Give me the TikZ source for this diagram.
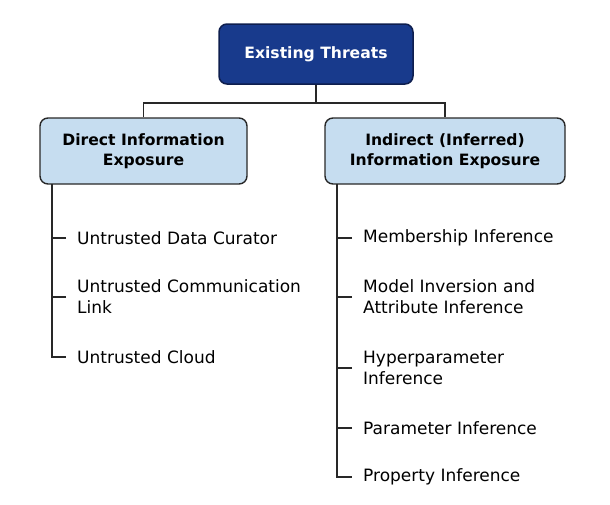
\documentclass[tikz,border=0pt]{standalone}
\usepackage{fontspec}
\setmainfont{DejaVu Sans}
\usetikzlibrary{positioning}
\definecolor{navy}{RGB}{24,58,140}
\definecolor{navyline}{RGB}{14,30,78}
\definecolor{paleblue}{RGB}{198,221,240}
\definecolor{darkline}{RGB}{40,40,40}
\begin{document}
\begin{tikzpicture}[x=1pt, y=-1pt,
  topbox/.style={draw=navyline, line width=1.5pt, rounded corners=8pt, fill=navy, text=white, font=\bfseries\fontsize{15.6}{20}\selectfont, align=center, minimum width=194pt, minimum height=60pt},
  catbox/.style={draw=darkline, line width=1.4pt, rounded corners=8pt, fill=paleblue, font=\bfseries\fontsize{15.6}{20}\selectfont, align=center, minimum height=66pt},
  item/.style={anchor=west, inner xsep=11pt, inner ysep=0pt, align=left, font=\fontsize{17}{21}\selectfont},
  branch/.style={draw=darkline, line width=1.3pt}]
  \useasboundingbox (0,0) rectangle (610,504);

  \node[topbox] (threats) at (316,54) {Existing Threats};
  \node[catbox, minimum width=207pt] (direct) at (143.5,151) {Direct Information\\Exposure};
  \node[catbox, minimum width=240pt] (indirect) at (445,151) {Indirect (Inferred)\\Information Exposure};

  \coordinate (split) at (316,103);
  \draw[branch] (threats.south) -- (split);
  \draw[branch] (direct.north) |- (split) -| (indirect.north);

  % direct exposure
  \node[item] (d1) at (66,238) {Untrusted Data Curator};
  \node[item] (d2) at (66,297) {Untrusted Communication\\Link};
  \node[item] (d3) at (66,357) {Untrusted Cloud};
  \coordinate (dtrunk) at (52,184);
  \draw[branch] (dtrunk) |- (d3.west);
  \foreach \n in {d1,d2} \draw[branch] (\n.west) -- (\n.west -| dtrunk);

  % indirect exposure
  \node[item] (i1) at (352,238) {Membership Inference};
  \node[item] (i2) at (352,297) {Model Inversion and\\Attribute Inference};
  \node[item] (i3) at (352,368) {Hyperparameter\\Inference};
  \node[item] (i4) at (352,428) {Parameter Inference};
  \node[item] (i5) at (352,477) {Property Inference};
  \coordinate (itrunk) at (337,184);
  \draw[branch] (itrunk) |- (i5.west);
  \foreach \n in {i1,i2,i3,i4} \draw[branch] (\n.west) -- (\n.west -| itrunk);
\end{tikzpicture}
\end{document}
